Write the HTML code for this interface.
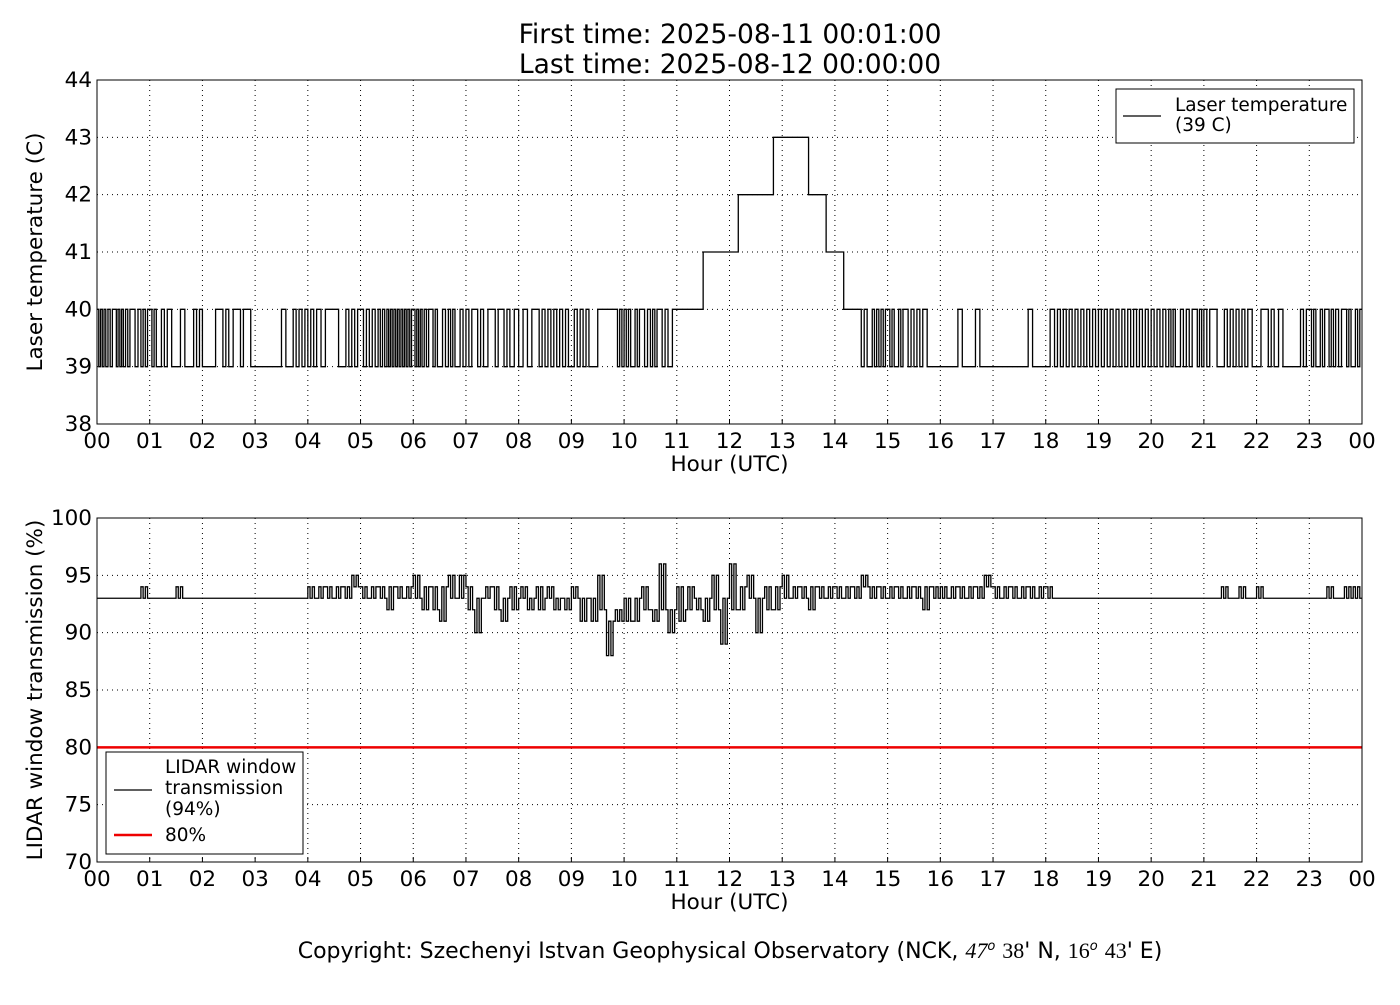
<!DOCTYPE html>
<html><head><meta charset="utf-8"><style>
body{margin:0;background:#fff;}
svg text{font-family:"DejaVu Sans","Liberation Sans",sans-serif;fill:#000;}
</style></head><body>
<svg id="fig" width="1400" height="1000" xmlns="http://www.w3.org/2000/svg">
<rect width="1400" height="1000" fill="#fff"/>
<text x="730" y="43" font-size="26.5" text-anchor="middle">First time: 2025-08-11 00:01:00</text>
<text x="730" y="73" font-size="26.5" text-anchor="middle">Last time: 2025-08-12 00:00:00</text>
<g id="top"></g>
<g id="bot"></g>
<text x="730" y="958" font-size="22" text-anchor="middle">Copyright: Szechenyi Istvan Geophysical Observatory (NCK, <tspan font-family="Liberation Serif" font-style="italic">47</tspan><tspan font-size="13" dy="-8" font-style="italic">o</tspan><tspan dy="8">  </tspan><tspan font-family="Liberation Serif">38</tspan>' N, <tspan font-family="Liberation Serif">16</tspan><tspan font-size="13" dy="-8" font-style="italic">o</tspan><tspan dy="8">  </tspan><tspan font-family="Liberation Serif">43</tspan>' E)</text>
</svg>
<script>
const hourTicks=["00","01","02","03","04","05","06","07","08","09","10","11","12","13","14","15","16","17","18","19","20","21","22","23","00"];
const tempTicks=[38,39,40,41,42,43,44];
const transTicks=[70,75,80,85,90,95,100];
const threshold=80;
// 10-minute resolution values, 144 per day
const tempValues=[
40,39,40,39,40,39, 40,39,40,39,39,40, 39,39,40,39,40,40, 39,39,39,40,39,40,
39,40,40,40,39,40, 40,39,40,40,39,40, 40,39,40,39,40,39, 40,40,39,40,40,39,
39,39,40,39,40,39, 39,40,39,40,40,40, 40,39,40,39,40,39, 40,40,40,41,41,41,
41,42,42,42,42,43, 43,43,43,42,42,41, 41,40,40,39,39,39, 40,39,40,39,40,39,
39,39,40,39,40,39, 39,39,39,39,40,39, 39,39,40,39,40,39, 40,39,40,39,40,39,
40,39,40,39,40,40, 40,40,39,40,39,40, 39,40,39,39,39,40, 40,39,40,40,40,39];
// number of 39/40 alternations inside each 10-minute bin
const tempFlips=[
4,3,4,3,2,3, 3,2,1,1,0,2, 0,1,2,1,2,1, 0,0,0,1,2,2,
2,1,0,1,2,2, 2,2,3,4,4,4, 4,3,3,2,3,2, 2,2,1,2,2,1,
1,1,2,2,2,2, 2,2,0,0,0,3, 3,3,2,3,2,1, 0,0,0,0,0,0,
0,0,0,0,0,0, 0,0,0,0,0,0, 0,0,0,2,3,3, 3,3,2,2,1,0,
0,0,1,0,1,0, 0,0,0,0,1,0, 1,2,2,2,2,2, 2,2,2,2,2,2,
2,2,3,2,2,3, 2,1,2,2,2,1, 1,2,1,0,0,2, 3,3,3,2,3,3];
const transValues=[
93,93,93,93,93,94, 93,93,93,94,93,93, 93,93,93,93,93,93, 93,93,93,93,93,93,
94,93,94,93,94,95, 94,93,94,92,94,93, 95,92,94,91,95,93, 94,90,93,94,91,94,
93,92,94,93,92,93, 94,91,93,95,88,92, 93,91,94,92,96,90, 94,92,93,91,95,89,
96,92,95,90,94,92, 95,93,94,92,94,93, 94,93,94,95,93,94, 93,94,93,94,92,94,
94,93,94,93,94,95, 94,93,94,93,94,93, 94,93,93,93,93,93, 93,93,93,93,93,93,
93,93,93,93,93,93, 93,93,94,93,94,93, 94,93,93,93,93,93, 93,93,94,93,94,94];
// alternate value visited within each bin
const transAlt=[
93,93,93,93,93,93, 93,93,93,93,93,93, 93,93,93,93,93,93, 93,93,93,93,93,93,
93,94,93,94,93,94, 93,94,93,94,93,94, 93,94,92,94,93,95, 92,93,94,92,93,92,
94,93,92,94,93,92, 93,93,91,92,91,91, 91,93,92,91,92,92, 91,94,92,93,92,93,
92,94,93,93,92,94, 93,94,93,94,93,94, 93,94,93,94,94,93, 94,93,94,93,94,93,
93,94,93,94,93,94, 93,94,93,94,93,94, 93,93,93,93,93,93, 93,93,93,93,93,93,
93,93,93,93,93,93, 93,93,93,93,93,93, 93,93,93,93,93,93, 93,93,93,93,93,93];

const NS="http://www.w3.org/2000/svg";
function mk(parent,tag,attrs){const e=document.createElementNS(NS,tag);for(const k in attrs)e.setAttribute(k,attrs[k]);parent.appendChild(e);return e;}
const X0=97,X1=1362;
function xs(h){return X0+(X1-X0)*h/24;}

function axes(g,top,bot,ymin,ymax,yticks,ylabel,tickName){
  const ys=v=>bot-(bot-top)*(v-ymin)/(ymax-ymin);
  hourTicks.forEach((t,i)=>{
    const x=xs(i);
    if(i>0&&i<24){const l=mk(g,'line',{x1:x,x2:x,y1:top,y2:bot,stroke:'#000','stroke-width':1,'stroke-dasharray':'1,4'});
    
    }
    const tk=mk(g,'line',{x1:x,x2:x,y1:bot,y2:bot-5,stroke:'#000'});
    
    
    const tx=mk(g,'text',{x:x,y:bot+24,'font-size':21.5,'text-anchor':'middle'});tx.textContent=t;
    
    
  });
  yticks.forEach(v=>{
    const y=ys(v);
    if(v>ymin&&v<ymax){const l=mk(g,'line',{x1:X0,x2:X1,y1:y,y2:y,stroke:'#000','stroke-width':1,'stroke-dasharray':'1,4'});
    
    }
    const tx=mk(g,'text',{x:X0-5,y:y+7,'font-size':21.5,'text-anchor':'end'});tx.textContent=v;
    
    
  });
  const xl=mk(g,'text',{x:(X0+X1)/2,y:bot+47,'font-size':21.5,'text-anchor':'middle'});xl.textContent='Hour (UTC)';
  
  
  const cy=(top+bot)/2;
  const yl=mk(g,'text',{x:0,y:0,'font-size':21.5,'text-anchor':'middle',transform:`translate(42,${cy}) rotate(-90)`});yl.textContent=ylabel;
  
  
  return ys;
}
function series(g,ys,values,altFn,nFn,top,bot){
  let d='';let first=true;
  values.forEach((v,i)=>{
    const a=altFn(i),n=nFn(i);
    const segs=n+1;
    for(let k=0;k<segs;k++){
      const val=(k%2===0)?v:a;
      const x=xs((i+k/segs)/6),x2=xs((i+(k+1)/segs)/6),y=ys(val);
      d+=(first?'M':'L')+x.toFixed(2)+','+y.toFixed(2)+'L'+x2.toFixed(2)+','+y.toFixed(2);first=false;
    }
  });
  const p=mk(g,'path',{d:d,fill:'none',stroke:'#000','stroke-width':1.3});
  
  
}
function frame(g,top,bot){
  const f=mk(g,'rect',{x:X0,y:top,width:X1-X0,height:bot-top,fill:'none',stroke:'#000'});
  
  
}
const gt=document.getElementById('top');
const yst=axes(gt,80,424,38,44,tempTicks,'Laser temperature (C)','y-tick-label');
series(gt,yst,tempValues,i=>{const v=tempValues[i];return v===39?40:(v===40?39:v);},i=>{const v=tempValues[i];return (v===39||v===40)?tempFlips[i]:0;});
frame(gt,80,424);
const gb=document.getElementById('bot');
const ysb=axes(gb,518,862,70,100,transTicks,'LIDAR window transmission (%)','y-tick-label');
series(gb,ysb,transValues,i=>transAlt[i],i=>transAlt[i]!==transValues[i]?3:0);
const th=mk(gb,'line',{x1:X0,x2:X1,y1:ysb(threshold),y2:ysb(threshold),stroke:'#e00','stroke-width':2.5});


frame(gb,518,862);

const lg1=mk(gt,'g',{});


mk(lg1,'rect',{x:1116,y:89,width:238,height:54,fill:'#fff',stroke:'#000'});
mk(lg1,'line',{x1:1123,x2:1161,y1:116,y2:116,stroke:'#000','stroke-width':1.3});
let t=mk(lg1,'text',{x:1175,y:111,'font-size':18.5});t.textContent='Laser temperature';
t=mk(lg1,'text',{x:1175,y:131,'font-size':18.5});t.textContent='(39 C)';

const lg2=mk(gb,'g',{});


mk(lg2,'rect',{x:106,y:752,width:197,height:102,fill:'#fff',stroke:'#000'});
mk(lg2,'line',{x1:114,x2:152,y1:790,y2:790,stroke:'#000','stroke-width':1.3});
t=mk(lg2,'text',{x:165,y:773,'font-size':18.5});t.textContent='LIDAR window';
t=mk(lg2,'text',{x:165,y:794,'font-size':18.5});t.textContent='transmission';
t=mk(lg2,'text',{x:165,y:815,'font-size':18.5});t.textContent='(94%)';
mk(lg2,'line',{x1:114,x2:152,y1:835,y2:835,stroke:'#e00','stroke-width':2.5});
t=mk(lg2,'text',{x:165,y:841,'font-size':18.5});t.textContent='80%';
</script>
</body></html>
